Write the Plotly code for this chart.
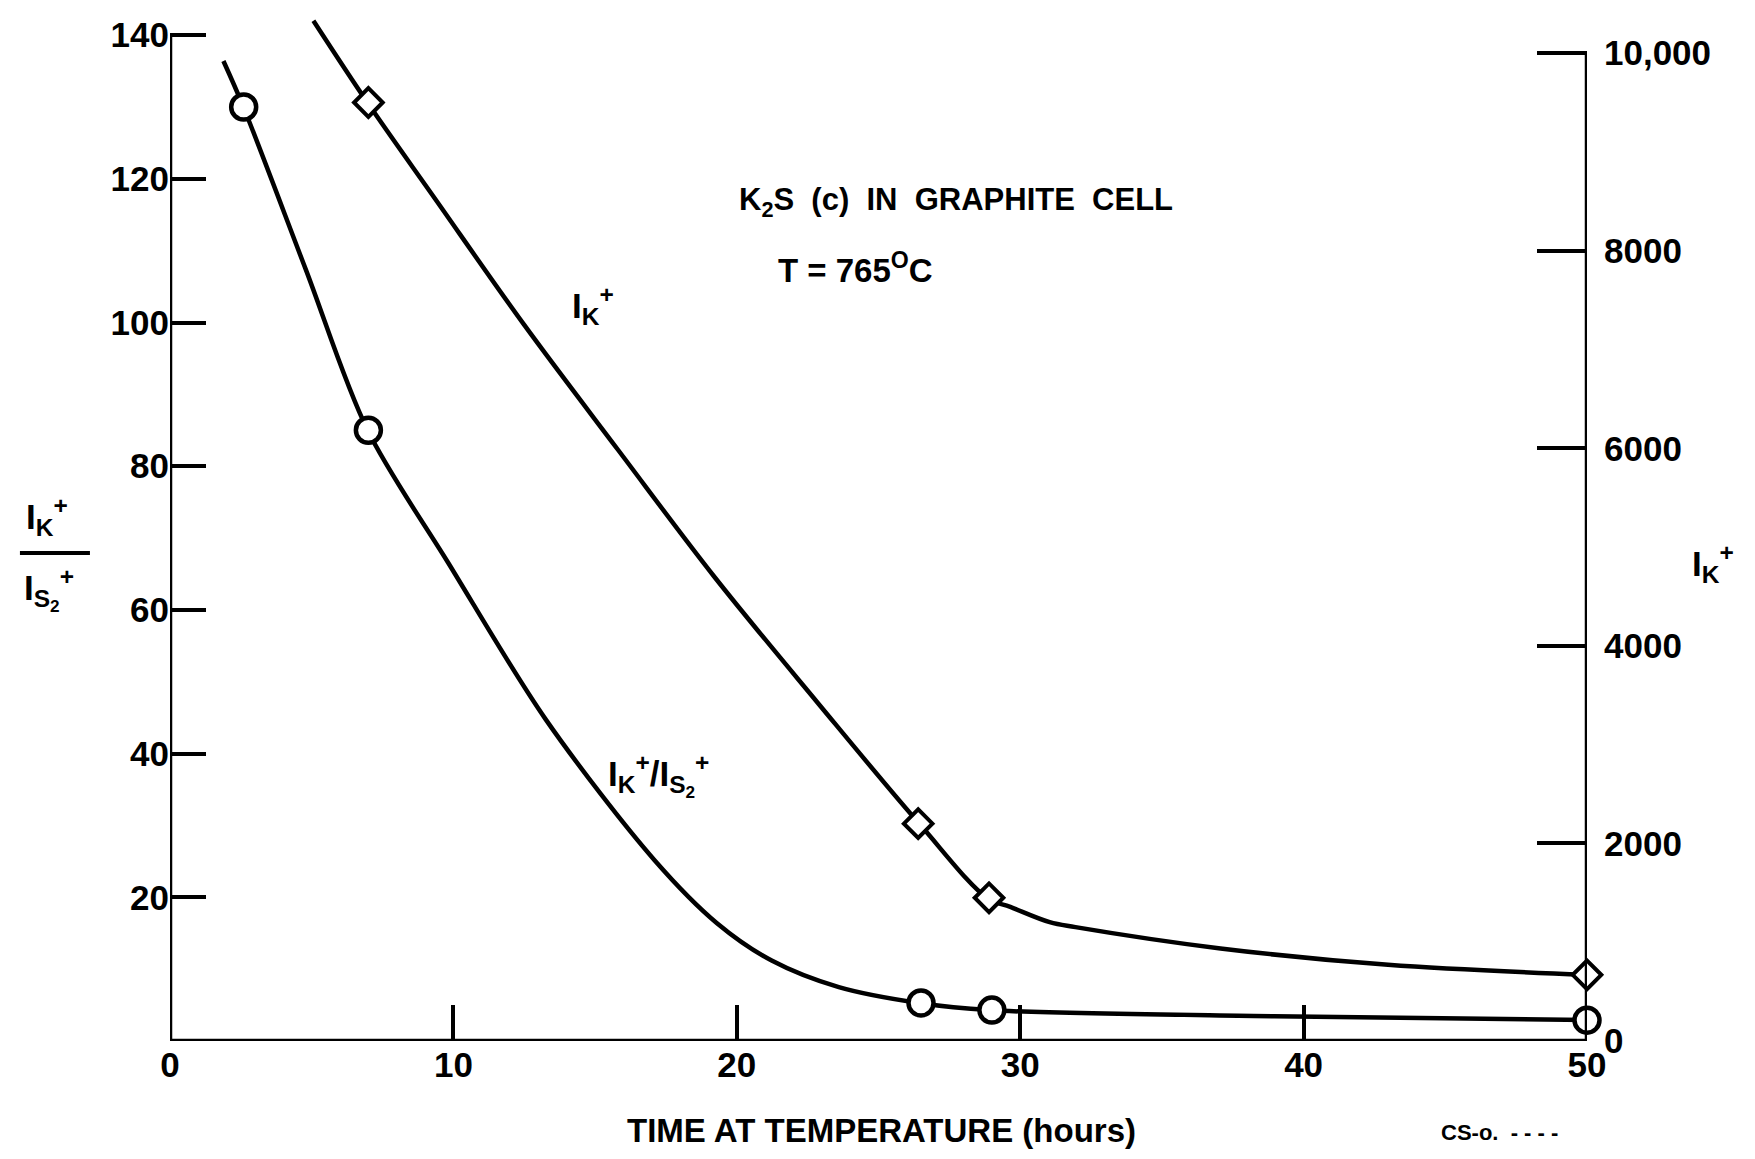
import plotly.graph_objects as go

# ---------------- data ----------------
# Smooth curve through the I_K+/I_S2+ ratio (left axis)
ratio_curve_x = [1.885, 2.58, 4.79, 6.96, 9.81, 13.25, 17.09, 19.3, 21.23, 23.6, 26.5, 28.9, 38.97, 50.0]
ratio_curve_y = [136.4, 130.1, 107.4, 85.1, 66.6, 44.8, 25.2, 16.4, 11.2, 7.5, 5.25, 4.3, 3.45, 2.94]
# Measured ratio points (circles)
ratio_pts_x = [2.6, 7.0, 26.5, 29.0, 50.0]
ratio_pts_y = [130.0, 85.0, 5.3, 4.3, 2.9]

# Smooth curve through the I_K+ intensity (right axis)
ik_curve_x = [5.06, 6.96, 9.34, 12.48, 15.82, 19.2, 22.86, 26.45, 28.85, 29.65, 31.04, 31.95, 37.07, 42.98, 49.96]
ik_curve_y = [10327, 9502, 8531, 7256, 5980, 4702, 3422, 2196, 1445, 1357, 1203, 1153, 937, 771, 670]
# Measured I_K+ points (diamonds)
ik_pts_x = [7.0, 26.4, 28.9, 50.0]
ik_pts_y = [9500, 2200, 1450, 670]

x_tick_vals = [0, 10, 20, 30, 40, 50]
x_tick_text = ["0", "10", "20", "30", "40", "50"]
left_tick_vals = [20, 40, 60, 80, 100, 120, 140]
left_tick_text = ["20", "40", "60", "80", "100", "120", "140"]
right_tick_vals = [0, 2000, 4000, 6000, 8000, 10000]
right_tick_text = ["0", "2000", "4000", "6000", "8000", "10,000"]

# ---------------- layout constants ----------------
L_TOP = 143.5
R_PER_L = 10000 / 137.5
R_TOP = L_TOP * R_PER_L
FONT = "Liberation Sans, Arial, sans-serif"
LW = 4.5

fig = go.Figure()

fig.add_trace(go.Scatter(
    x=ratio_curve_x, y=ratio_curve_y, mode="lines", yaxis="y",
    line=dict(color="black", width=LW, shape="spline", smoothing=0.9),
    hoverinfo="skip", showlegend=False))
fig.add_trace(go.Scatter(
    x=ik_curve_x, y=ik_curve_y, mode="lines", yaxis="y2",
    line=dict(color="black", width=LW, shape="spline", smoothing=1.0),
    hoverinfo="skip", showlegend=False))
fig.add_trace(go.Scatter(
    x=ratio_pts_x, y=ratio_pts_y, mode="markers", yaxis="y", cliponaxis=False,
    marker=dict(symbol="circle", size=25, color="white", line=dict(color="black", width=4.5)),
    showlegend=False))
fig.add_trace(go.Scatter(
    x=ik_pts_x, y=ik_pts_y, mode="markers", yaxis="y2", cliponaxis=False,
    marker=dict(symbol="diamond", size=22, color="white", line=dict(color="black", width=4)),
    showlegend=False))

tickfont = dict(family=FONT, size=35, color="black", weight="bold")

fig.update_layout(
    width=1755, height=1159,
    margin=dict(l=170, r=168, t=10, b=118),
    paper_bgcolor="white", plot_bgcolor="white",
    showlegend=False,
    font=dict(family=FONT, color="black"),
    xaxis=dict(range=[0, 50], tickvals=x_tick_vals, ticktext=x_tick_text,
               ticks="inside", ticklen=36, tickwidth=4, tickcolor="black",
               showline=False, showgrid=False, zeroline=False, tickfont=tickfont),
    yaxis=dict(range=[0, L_TOP], tickvals=left_tick_vals, ticktext=left_tick_text,
               ticks="inside", ticklen=36, tickwidth=4, tickcolor="black",
               showline=False, showgrid=False, zeroline=False, tickfont=tickfont),
    yaxis2=dict(range=[0, R_TOP], tickvals=right_tick_vals, ticktext=right_tick_text,
                overlaying="y", side="right",
                ticks="inside", ticklen=50, tickwidth=4, tickcolor="black",
                ticklabelstandoff=16,
                showline=False, showgrid=False, zeroline=False, tickfont=tickfont),
)

# axis lines
fig.add_shape(type="line", xref="x", yref="y", x0=0, x1=0, y0=0, y1=140,
              line=dict(color="black", width=LW))
fig.add_shape(type="line", xref="x", yref="y", x0=0, x1=50, y0=0, y1=0,
              line=dict(color="black", width=LW))
fig.add_shape(type="line", xref="x", yref="y2", x0=50, x1=50, y0=0, y1=10000,
              line=dict(color="black", width=LW))

txt = dict(family=FONT, size=35, color="black", weight="bold")
txt33 = dict(family=FONT, size=33, color="black", weight="bold")

# in-plot annotations
fig.add_annotation(x=20.0, y=116.8, xref="x", yref="y", xanchor="left", yanchor="middle",
                   text="K<sub>2</sub>S  (c)  IN  GRAPHITE  CELL", showarrow=False,
                   font=dict(family=FONT, size=31, color="black", weight="bold"))
fig.add_annotation(x=21.4, y=107.6, xref="x", yref="y", xanchor="left", yanchor="middle",
                   text="T = 765<sup>O</sup>C", showarrow=False, font=txt33)
fig.add_annotation(x=14.94, y=102.4, xref="x", yref="y", xanchor="center", yanchor="middle",
                   text="I<sub>K</sub><sup>+</sup>", showarrow=False, font=txt)
fig.add_annotation(x=15.38, y=36.9, xref="x", yref="y", xanchor="left", yanchor="middle",
                   text="I<sub>K</sub><sup>+</sup>/I<sub>S<sub>2</sub></sub><sup>+</sup>",
                   showarrow=False, font=txt)

# right axis title
fig.add_annotation(x=1.089, y=0.463, xref="paper", yref="paper", xanchor="center", yanchor="middle",
                   text="I<sub>K</sub><sup>+</sup>", showarrow=False, font=txt)
# left axis title (fraction)
fig.add_annotation(x=-0.0865, y=0.509, xref="paper", yref="paper", xanchor="center", yanchor="middle",
                   text="I<sub>K</sub><sup>+</sup>", showarrow=False, font=txt)
fig.add_shape(type="line", xref="paper", yref="paper", x0=-0.1059, x1=-0.0565, y0=0.4733, y1=0.4733,
              line=dict(color="black", width=4))
fig.add_annotation(x=-0.0855, y=0.438, xref="paper", yref="paper", xanchor="center", yanchor="middle",
                   text="I<sub>S<sub>2</sub></sub><sup>+</sup>", showarrow=False, font=txt)
# x axis title
fig.add_annotation(x=0.5018, y=-0.0868, xref="paper", yref="paper", xanchor="center", yanchor="middle",
                   text="TIME AT TEMPERATURE (hours)", showarrow=False, font=txt33)
# catalog number
fig.add_annotation(x=0.9386, y=-0.0888, xref="paper", yref="paper", xanchor="center", yanchor="middle",
                   text="CS-o.  - - - -", showarrow=False,
                   font=dict(family=FONT, size=22, color="black", weight="bold"))

fig.write_html("out.html")
